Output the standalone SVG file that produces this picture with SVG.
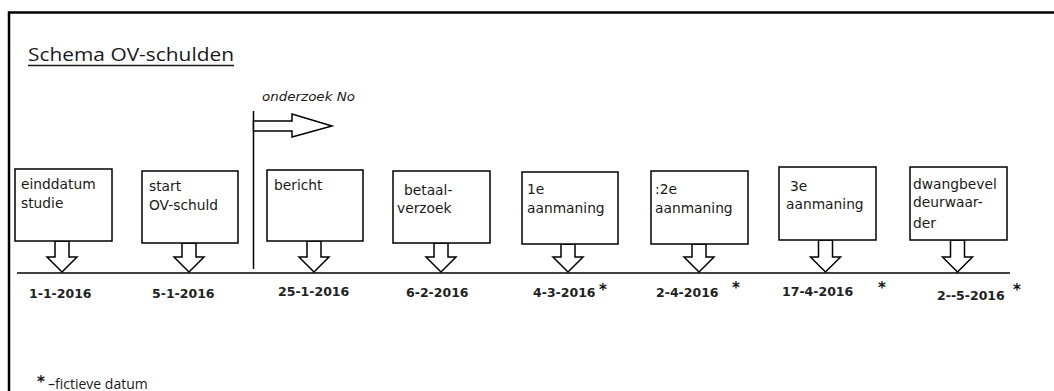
<svg xmlns="http://www.w3.org/2000/svg" width="1054" height="391" viewBox="0 0 1054 391">
<style>
.frame{fill:none;stroke:#000;stroke-width:2.5}
.box{fill:#fff;stroke:#000;stroke-width:1.5}
.arr{fill:#fff;stroke:#000;stroke-width:1.5;stroke-linejoin:miter}
.line{stroke:#000;stroke-width:1.5;fill:none}
.lbl{font-family:"DejaVu Sans",Verdana,sans-serif;font-size:13.8px;fill:#1a1a1a}
.date{font-family:"DejaVu Sans",Verdana,sans-serif;font-size:12.5px;font-weight:bold;fill:#222}
.star{font-family:"DejaVu Sans",sans-serif;font-size:15px;font-weight:bold;fill:#111}
.title{font-family:"Open Sans","Liberation Sans",sans-serif;font-size:19px;fill:#1a1a1a}
.note{font-family:"DejaVu Sans",sans-serif;font-size:12px;font-style:italic;fill:#1a1a1a}
</style>
<rect width="1054" height="391" fill="#fff"/>
<path class="frame" d="M9,400 V12.5 H1060"/>
<g id="title">
<text class="title" x="28" y="61" textLength="206" lengthAdjust="spacingAndGlyphs">Schema OV-schulden</text>
<line x1="28" y1="65.5" x2="234" y2="65.5" stroke="#1a1a1a" stroke-width="1.5"/>
</g>
<g id="connectors">
<line class="line" x1="17" y1="273" x2="1010" y2="273"/>
<line class="line" x1="253.5" y1="111" x2="253.5" y2="269"/>
<polygon class="arr" points="253.5,121 292,121 292,114 332,126 292,137 292,131 253.5,131"/>
<polygon class="arr" points="55,241 55,257 47,257 62,272 77,257 69,257 69,241"/>
<polygon class="arr" points="182,243 182,257 174,257 189,272 204,257 196,257 196,243"/>
<polygon class="arr" points="307,241 307,257 299,257 314,272 329,257 321,257 321,241"/>
<polygon class="arr" points="434,243 434,257 426,257 441,272 456,257 448,257 448,243"/>
<polygon class="arr" points="561,244 561,257 553,257 568,272 583,257 575,257 575,244"/>
<polygon class="arr" points="692,244 692,257 684,257 699,272 714,257 706,257 706,244"/>
<polygon class="arr" points="818.5,240 818.5,257 810.5,257 825.5,272 840.5,257 832.5,257 832.5,240"/>
<polygon class="arr" points="950.5,240 950.5,257 942.5,257 957.5,272 972.5,257 964.5,257 964.5,240"/>
</g>
<g id="onderzoek">
<text class="note" x="262" y="101" textLength="93" lengthAdjust="spacingAndGlyphs">onderzoek No</text>
</g>
<g id="n1">
<rect class="box" x="15" y="169" width="97" height="72"/>
<text class="lbl" x="21" y="189">einddatum</text>
<text class="lbl" x="21" y="208">studie</text>
<text class="date" x="29" y="298">1-1-2016</text>
</g>
<g id="n2">
<rect class="box" x="142" y="171" width="96" height="72"/>
<text class="lbl" x="149" y="191">start</text>
<text class="lbl" x="149" y="210">OV-schuld</text>
<text class="date" x="152" y="298">5-1-2016</text>
</g>
<g id="n3">
<rect class="box" x="267" y="170" width="96" height="71"/>
<text class="lbl" x="274" y="190">bericht</text>
<text class="date" x="278" y="296">25-1-2016</text>
</g>
<g id="n4">
<rect class="box" x="393" y="171" width="97" height="72"/>
<text class="lbl" x="404" y="195">betaal-</text>
<text class="lbl" x="397" y="213">verzoek</text>
<text class="date" x="406" y="297">6-2-2016</text>
</g>
<g id="n5">
<rect class="box" x="522" y="172" width="96" height="72"/>
<text class="lbl" x="527" y="194">1e</text>
<text class="lbl" x="527" y="213">aanmaning</text>
<text class="date" x="533" y="297">4-3-2016</text>
<text class="star" x="599" y="295">*</text>
</g>
<g id="n6">
<rect class="box" x="651" y="171" width="97" height="73"/>
<text class="lbl" x="655" y="194">:2e</text>
<text class="lbl" x="655" y="213">aanmaning</text>
<text class="date" x="656" y="297">2-4-2016</text>
<text class="star" x="732" y="293">*</text>
</g>
<g id="n7">
<rect class="box" x="779" y="167" width="97" height="73"/>
<text class="lbl" x="790" y="191">3e</text>
<text class="lbl" x="786" y="209">aanmaning</text>
<text class="date" x="782" y="296">17-4-2016</text>
<text class="star" x="878" y="293">*</text>
</g>
<g id="n8">
<rect class="box" x="910" y="167" width="97" height="73"/>
<text class="lbl" x="913" y="189">dwangbevel</text>
<text class="lbl" x="913" y="207">deurwaar-</text>
<text class="lbl" x="913" y="228">der</text>
<text class="date" x="937" y="300">2--5-2016</text>
<text class="star" x="1013" y="295">*</text>
</g>
<g id="legend">
<text class="star" x="37" y="387">*</text>
<text class="title" x="48" y="389" style="font-size:14px">–fictieve datum</text>
</g>
</svg>
